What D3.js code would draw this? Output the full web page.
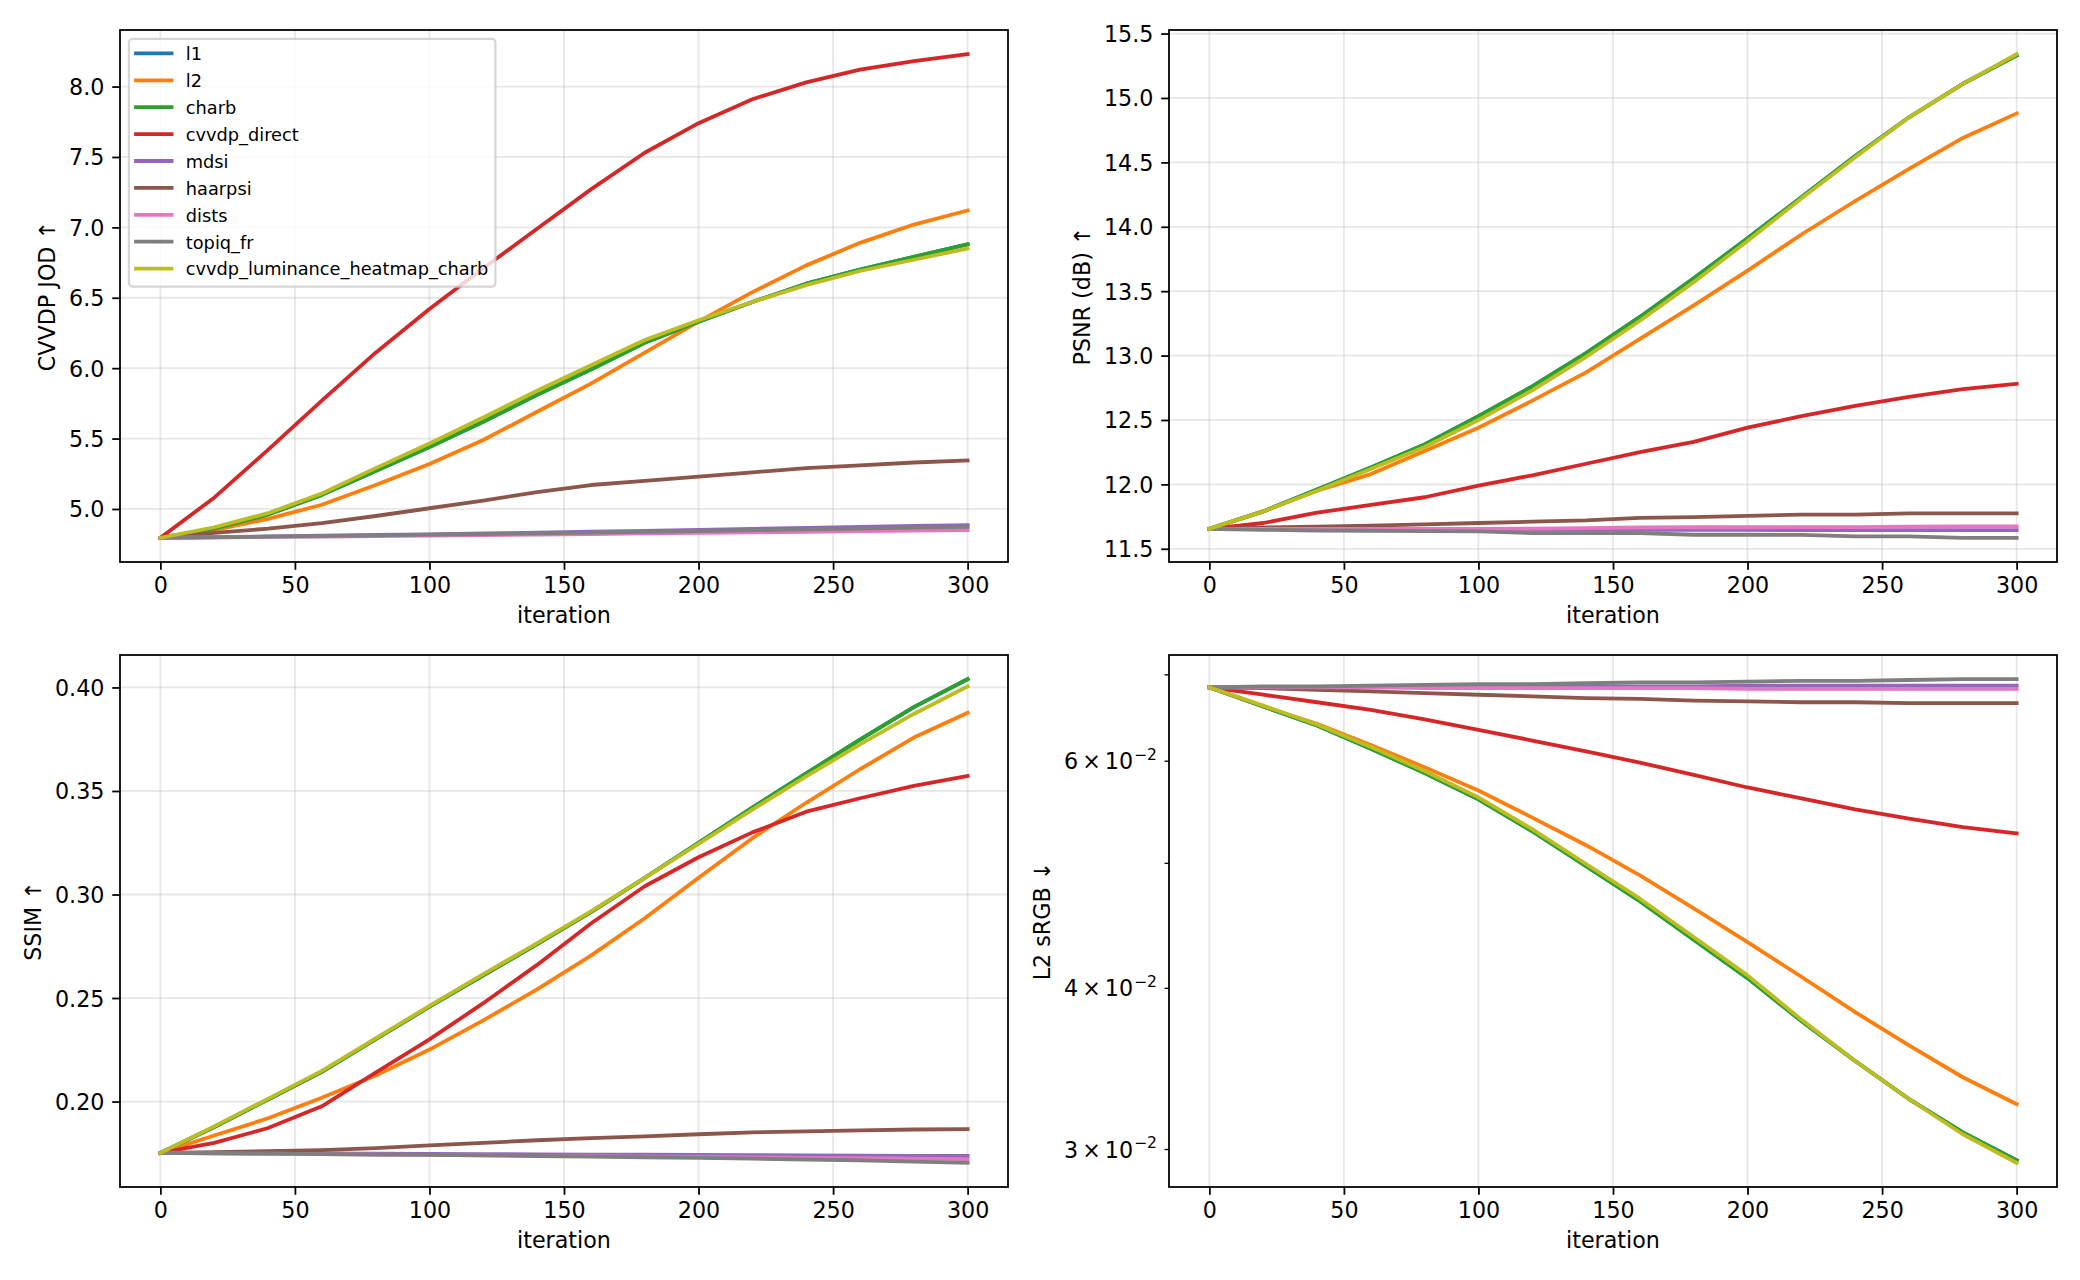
<!DOCTYPE html>
<html><head><meta charset="utf-8">
<script src="https://cdn.jsdelivr.net/npm/d3@7"></script>
<style>
body{margin:0;background:#fff}
text{font-family:"DejaVu Sans",sans-serif;fill:#000}
</style>
</head><body>
<svg id="c" width="2080" height="1280" xmlns="http://www.w3.org/2000/svg"></svg>
<script>
// ---------------- data ----------------
const iterations = [0,20,40,60,80,100,120,140,160,180,200,220,240,260,280,300];
const seriesNames = ["l1","l2","charb","cvvdp_direct","mdsi","haarpsi","dists","topiq_fr","cvvdp_luminance_heatmap_charb"];
const seriesColors = ["#1f77b4","#ff7f0e","#2ca02c","#d62728","#9467bd","#8c564b","#e377c2","#7f7f7f","#bcbd22"];

// CVVDP JOD, one row per series (order as seriesNames)
const jodValues = [
  [4.795,4.86,4.96,5.10,5.27,5.44,5.62,5.81,5.99,6.18,6.33,6.47,6.60,6.70,6.79,6.88],
  [4.795,4.85,4.93,5.03,5.17,5.32,5.49,5.69,5.89,6.11,6.33,6.54,6.73,6.89,7.02,7.12],
  [4.795,4.86,4.96,5.10,5.27,5.44,5.62,5.81,5.99,6.18,6.33,6.47,6.60,6.70,6.79,6.88],
  [4.795,5.08,5.42,5.77,6.11,6.42,6.71,6.99,7.27,7.53,7.74,7.91,8.03,8.12,8.18,8.23],
  [4.795,4.80,4.805,4.81,4.815,4.82,4.826,4.832,4.838,4.845,4.852,4.859,4.866,4.873,4.879,4.885],
  [4.795,4.83,4.86,4.90,4.95,5.005,5.06,5.12,5.17,5.20,5.23,5.26,5.29,5.31,5.33,5.345],
  [4.795,4.798,4.801,4.804,4.807,4.81,4.814,4.818,4.822,4.826,4.83,4.834,4.838,4.842,4.846,4.85],
  [4.795,4.799,4.803,4.807,4.812,4.817,4.822,4.827,4.832,4.837,4.843,4.849,4.855,4.861,4.867,4.873],
  [4.795,4.87,4.97,5.11,5.29,5.465,5.65,5.84,6.02,6.20,6.34,6.47,6.59,6.69,6.77,6.85]
];
// PSNR (dB)
const psnrValues = [
  [11.655,11.79,11.96,12.13,12.31,12.53,12.76,13.02,13.30,13.60,13.91,14.23,14.55,14.85,15.11,15.33],
  [11.655,11.79,11.95,12.08,12.26,12.44,12.65,12.87,13.13,13.39,13.66,13.94,14.20,14.45,14.69,14.88],
  [11.655,11.79,11.96,12.13,12.31,12.53,12.76,13.02,13.30,13.60,13.91,14.23,14.55,14.85,15.11,15.33],
  [11.655,11.70,11.78,11.84,11.90,11.99,12.07,12.16,12.25,12.33,12.44,12.53,12.61,12.68,12.74,12.78],
  [11.655,11.652,11.65,11.65,11.648,11.648,11.647,11.647,11.647,11.646,11.646,11.645,11.645,11.645,11.644,11.644],
  [11.655,11.665,11.672,11.68,11.69,11.70,11.71,11.72,11.74,11.745,11.755,11.765,11.765,11.775,11.775,11.775],
  [11.655,11.655,11.655,11.655,11.655,11.655,11.657,11.66,11.665,11.667,11.667,11.668,11.668,11.672,11.673,11.673],
  [11.655,11.647,11.642,11.64,11.637,11.635,11.622,11.622,11.622,11.609,11.609,11.608,11.596,11.596,11.585,11.585],
  [11.655,11.79,11.95,12.12,12.29,12.50,12.73,12.99,13.27,13.57,13.89,14.22,14.54,14.85,15.11,15.34]
];
// SSIM
const ssimValues = [
  [0.1752,0.1877,0.2010,0.2143,0.2301,0.2458,0.2610,0.2760,0.2915,0.3080,0.3250,0.3420,0.3585,0.3748,0.3905,0.4040],
  [0.1752,0.1836,0.1919,0.2018,0.2126,0.2251,0.2392,0.2542,0.2705,0.2885,0.3081,0.3272,0.3443,0.3605,0.3758,0.3878],
  [0.1752,0.1877,0.2010,0.2143,0.2301,0.2458,0.2610,0.2760,0.2915,0.3080,0.3250,0.3420,0.3585,0.3748,0.3905,0.4040],
  [0.1752,0.1800,0.1872,0.1977,0.2140,0.2300,0.2475,0.2660,0.2860,0.3040,0.3180,0.3300,0.3400,0.3465,0.3525,0.3573],
  [0.1752,0.1751,0.1750,0.1749,0.1748,0.1747,0.1746,0.1745,0.1744,0.1743,0.1742,0.1741,0.1740,0.1739,0.1738,0.1737],
  [0.1752,0.1755,0.1760,0.1765,0.1775,0.1788,0.1800,0.1813,0.1823,0.1832,0.1842,0.1851,0.1856,0.1861,0.1865,0.1867],
  [0.1752,0.1750,0.1748,0.1746,0.1744,0.1742,0.1740,0.1738,0.1736,0.1734,0.1732,0.1730,0.1728,0.1726,0.1724,0.1722],
  [0.1752,0.1750,0.1748,0.1746,0.1744,0.1742,0.1740,0.1737,0.1734,0.1731,0.1728,0.1724,0.1720,0.1716,0.1710,0.1704],
  [0.1752,0.1880,0.2013,0.2148,0.2305,0.2462,0.2615,0.2765,0.2918,0.3080,0.3245,0.3410,0.3570,0.3725,0.3872,0.4005]
];
// L2 sRGB (log scale)
const l2Values = [
  [0.0684,0.0661,0.0639,0.0613,0.0587,0.0560,0.0529,0.0497,0.0467,0.0436,0.0407,0.0377,0.0351,0.0328,0.0309,0.0294],
  [0.0684,0.0661,0.0641,0.0617,0.0593,0.0569,0.0542,0.0516,0.0489,0.0461,0.0434,0.0408,0.0383,0.0361,0.0341,0.0325],
  [0.0684,0.0661,0.0639,0.0613,0.0587,0.0560,0.0529,0.0497,0.0467,0.0436,0.0407,0.0377,0.0351,0.0328,0.0309,0.0294],
  [0.0684,0.0675,0.0666,0.0657,0.0646,0.0634,0.0622,0.0610,0.0598,0.0585,0.0572,0.0561,0.0550,0.0541,0.0533,0.0527],
  [0.0684,0.0684,0.0684,0.0684,0.0685,0.0685,0.0685,0.0685,0.0685,0.0685,0.0686,0.0686,0.0686,0.0686,0.0686,0.0686],
  [0.0684,0.0683,0.0681,0.0679,0.0677,0.0675,0.0673,0.0671,0.0670,0.0668,0.0667,0.0666,0.0666,0.0665,0.0665,0.0665],
  [0.0684,0.0684,0.0684,0.0684,0.0683,0.0683,0.0683,0.0683,0.0683,0.0683,0.0682,0.0682,0.0682,0.0682,0.0682,0.0682],
  [0.0684,0.0685,0.0685,0.0686,0.0687,0.0688,0.0688,0.0689,0.0690,0.0690,0.0691,0.0692,0.0692,0.0693,0.0694,0.0694],
  [0.0684,0.0662,0.0640,0.0615,0.0589,0.0562,0.0531,0.0499,0.0469,0.0438,0.0409,0.0378,0.0351,0.0328,0.0308,0.02927]
];

const xTicks = [0,50,100,150,200,250,300];
const jodTicks = [5.0,5.5,6.0,6.5,7.0,7.5,8.0];
const psnrTicks = [11.5,12.0,12.5,13.0,13.5,14.0,14.5,15.0,15.5];
const ssimTicks = [0.20,0.25,0.30,0.35,0.40];
const l2Ticks = [0.03,0.04,0.05,0.06,0.07];
const l2TickMantissa = ["3","4","","6",""];
const yLabels = ["CVVDP JOD \u2191","PSNR (dB) \u2191","SSIM \u2191","L2 sRGB \u2193"];
const xLabel = "iteration";

// ---------------- style constants ----------------
const FS = 22.22, LFS = 17.78, LW = 3.8, SPW = 1.78;
const TICK = 7.78, MTICK = 4.44, PAD = 7.78, MPAD = 7.56;

const svg = d3.select("#c");
svg.append("rect").attr("width",2080).attr("height",1280).attr("fill","#fff");

const panels = [
  {vals: jodValues,  ylab: yLabels[0], box:[120,1008,30,562],   log:false, ticks: jodTicks,  fmt: d3.format(".1f"), legend:true},
  {vals: psnrValues, ylab: yLabels[1], box:[1169,2057,30,562],  log:false, ticks: psnrTicks, fmt: d3.format(".1f")},
  {vals: ssimValues, ylab: yLabels[2], box:[120,1008,655,1187], log:false, ticks: ssimTicks, fmt: d3.format(".2f")},
  {vals: l2Values,   ylab: yLabels[3], box:[1169,2057,655,1187], log:true, ticks: l2Ticks}
];

function linDomain(v){const [a,b]=d3.extent(v.flat());const m=(b-a)*0.05;return [a-m,b+m];}
function logDomain(v){const [a,b]=d3.extent(v.flat());const la=Math.log10(a),lb=Math.log10(b),m=(lb-la)*0.05;return [10**(la-m),10**(lb+m)];}

panels.forEach((p,pi)=>{
  const [L,R,T,B] = p.box;
  const xs = d3.scaleLinear().domain([-15,315]).range([L,R]);
  const ys = p.log ? d3.scaleLog().domain(logDomain(p.vals)).range([B,T])
                   : d3.scaleLinear().domain(linDomain(p.vals)).range([B,T]);
  const g = svg.append("g");

  // grid
  const grid = g.append("g").attr("stroke","#b0b0b0").attr("stroke-opacity",0.3).attr("stroke-width",SPW);
  xTicks.forEach(t=>grid.append("line").attr("x1",xs(t)).attr("x2",xs(t)).attr("y1",T).attr("y2",B));
  if(!p.log) p.ticks.forEach(t=>grid.append("line").attr("x1",L).attr("x2",R).attr("y1",ys(t)).attr("y2",ys(t)));

  // lines
  const clipId = "clip"+pi;
  svg.append("clipPath").attr("id",clipId).append("rect").attr("x",L).attr("y",T).attr("width",R-L).attr("height",B-T);
  const lg = g.append("g").attr("clip-path",`url(#${clipId})`);
  const line = d3.line().x((d,i)=>xs(iterations[i])).y(d=>ys(d));
  p.vals.forEach((s,si)=>{
    lg.append("path").attr("d",line(s)).attr("fill","none")
      .attr("stroke",seriesColors[si]).attr("stroke-width",LW)
      .attr("stroke-linecap","square").attr("stroke-linejoin","round");
  });

  // x axis
  const xa = d3.axisBottom(xs).tickValues(xTicks).tickFormat(d3.format("d")).tickSize(TICK).tickPadding(PAD).tickSizeOuter(0);
  const xg = g.append("g").attr("transform",`translate(0,${B})`).call(xa);
  xg.select(".domain").remove();
  xg.selectAll("line").attr("stroke","#000").attr("stroke-width",SPW);
  xg.selectAll("text").attr("font-size",FS).attr("font-family","DejaVu Sans").attr("fill","#000");

  // y axis
  let yg;
  if(!p.log){
    const ya = d3.axisLeft(ys).tickValues(p.ticks).tickFormat(p.fmt).tickSize(TICK).tickPadding(PAD).tickSizeOuter(0);
    yg = g.append("g").attr("transform",`translate(${L},0)`).call(ya);
    yg.selectAll("line").attr("stroke","#000").attr("stroke-width",SPW);
    yg.selectAll("text").attr("font-size",FS).attr("font-family","DejaVu Sans").attr("fill","#000").attr("dy","0.36em");
  } else {
    const ya = d3.axisLeft(ys).tickValues(p.ticks).tickFormat(()=>"").tickSize(MTICK).tickPadding(MPAD).tickSizeOuter(0);
    yg = g.append("g").attr("transform",`translate(${L},0)`).call(ya);
    yg.selectAll("line").attr("stroke","#000").attr("stroke-width",1.33);
    yg.selectAll(".tick text").each(function(d,i){
      const m = l2TickMantissa[i];
      const t = d3.select(this).attr("font-size",FS).attr("font-family","DejaVu Sans").attr("fill","#000").attr("dy","0.36em");
      if(!m) return;
      t.append("tspan").text(m);
      t.append("tspan").attr("dx",4).text("\u00d7");
      t.append("tspan").attr("dx",4).text("10");
      t.append("tspan").attr("dx",1).attr("dy",-9.5).attr("font-size",FS*0.7).text("\u22122");
    });
  }
  yg.select(".domain").remove();

  // spines
  g.append("rect").attr("x",L).attr("y",T).attr("width",R-L).attr("height",B-T)
    .attr("fill","none").attr("stroke","#000").attr("stroke-width",SPW);

  // axis labels
  g.append("text").attr("x",(L+R)/2).attr("y",B+61).attr("text-anchor","middle").attr("font-size",FS).text(xLabel);
  let minX = L;
  yg.selectAll(".tick text").each(function(){const b=this.getBBox();if(b.width>0){const m=this.getCTM();const x=b.x+m.e;if(x<minX)minX=x;}});
  const bx = minX - 8.89 - 5.2;
  g.append("text").attr("transform",`translate(${bx},${(T+B)/2}) rotate(-90)`)
    .attr("text-anchor","middle").attr("font-size",FS).text(p.ylab);

  // legend
  if(p.legend){
    const lx = L + 8.89, ly = T + 8.89;
    const leg = g.append("g");
    const frame = leg.append("rect");
    let maxW = 0;
    seriesNames.forEach((n,i)=>{
      const yy = ly + 14.5 + i*26.9;
      leg.append("line").attr("x1",lx+7.11).attr("x2",lx+7.11+35.56).attr("y1",yy).attr("y2",yy)
        .attr("stroke",seriesColors[i]).attr("stroke-width",LW).attr("stroke-linecap","square");
      const t = leg.append("text").attr("x",lx+7.11+35.56+14.22).attr("y",yy+6.9).attr("font-size",LFS).text(n);
      maxW = Math.max(maxW, t.node().getComputedTextLength());
    });
    const w = 7.11+35.56+14.22+maxW+7.11;
    const h = 14.5 + 8*26.9 + 18;
    frame.attr("x",lx).attr("y",ly).attr("width",w).attr("height",h).attr("rx",3.5).attr("ry",3.5)
      .attr("fill","#fff").attr("fill-opacity",0.8).attr("stroke","#cccccc").attr("stroke-opacity",0.8).attr("stroke-width",2.2);
  }
});
</script>
</body></html>
